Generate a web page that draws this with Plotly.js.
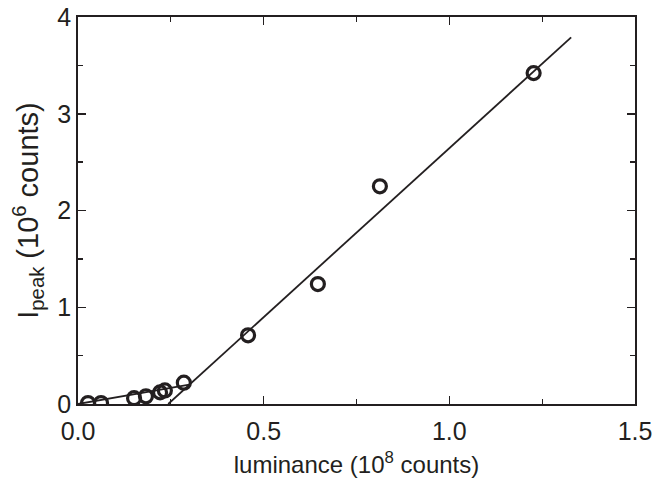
<!DOCTYPE html>
<html><head><meta charset="utf-8">
<script src="https://cdn.plot.ly/plotly-3.0.1.min.js"></script>
<style>html,body{margin:0;padding:0;background:#fff}</style>
</head><body>
<div id="chart" style="width:655px;height:490px"></div>
<script>
// measured data
const luminance = [0.027, 0.062, 0.151, 0.183, 0.221, 0.234, 0.285, 0.458, 0.646, 0.813, 1.227];
const ipeak     = [0.01, 0.01, 0.06, 0.08, 0.12, 0.14, 0.22, 0.71, 1.24, 2.25, 3.42];
// fit lines
const fit1X = [0.0, 0.30];
const fit1Y = [0.0, 0.20];
const fit2X = [0.243, 1.328];
const fit2Y = [0.0, 3.79];

const ink = '#231f20';
const traces = [
  {x: fit1X, y: fit1Y, mode: 'lines', line: {color: ink, width: 1.8}, hoverinfo: 'skip'},
  {x: fit2X, y: fit2Y, mode: 'lines', line: {color: ink, width: 1.8}, hoverinfo: 'skip'},
  {x: luminance, y: ipeak, mode: 'markers',
   marker: {symbol: 'circle-open', size: 13, color: ink, line: {width: 3.2, color: ink}}}
];
const fam = 'Liberation Sans, Arial, Helvetica, sans-serif';
const tickFont = {family: fam, size: 25, color: ink};
const xTitleFont = {family: fam, size: 24, color: ink};
const yTitleFont = {family: fam, size: 29, color: ink};
const axisCommon = {
  showline: true, linecolor: ink, linewidth: 1.8, mirror: 'allticks',
  ticks: 'inside', ticklen: 8, tickwidth: 1.5, tickcolor: ink,
  showgrid: false, zeroline: false, tickfont: tickFont
};
const layout = {
  width: 655, height: 490,
  margin: {l: 78, r: 20, t: 17, b: 86},
  paper_bgcolor: '#fff', plot_bgcolor: '#fff',
  showlegend: false, font: tickFont,
  xaxis: Object.assign({}, axisCommon, {
    range: [0, 1.5], dtick: 0.5, tick0: 0, tickformat: '.1f', ticklabelstandoff: 4,
    minor: {dtick: 0.25, ticks: 'inside', ticklen: 5, tickcolor: ink, tickwidth: 1.3},
    title: {text: 'luminance (10<sup>8</sup> counts)', font: xTitleFont, standoff: 12}
  }),
  yaxis: Object.assign({}, axisCommon, {
    range: [0, 4], dtick: 1, tick0: 0,
    minor: {dtick: 0.5, ticks: 'inside', ticklen: 5, tickcolor: ink, tickwidth: 1.3},
    title: {text: 'I<sub>peak</sub> (10<sup>6</sup> counts)', font: yTitleFont, standoff: 10}
  })
};
Plotly.newPlot('chart', traces, layout, {staticPlot: true});
</script>
</body></html>
